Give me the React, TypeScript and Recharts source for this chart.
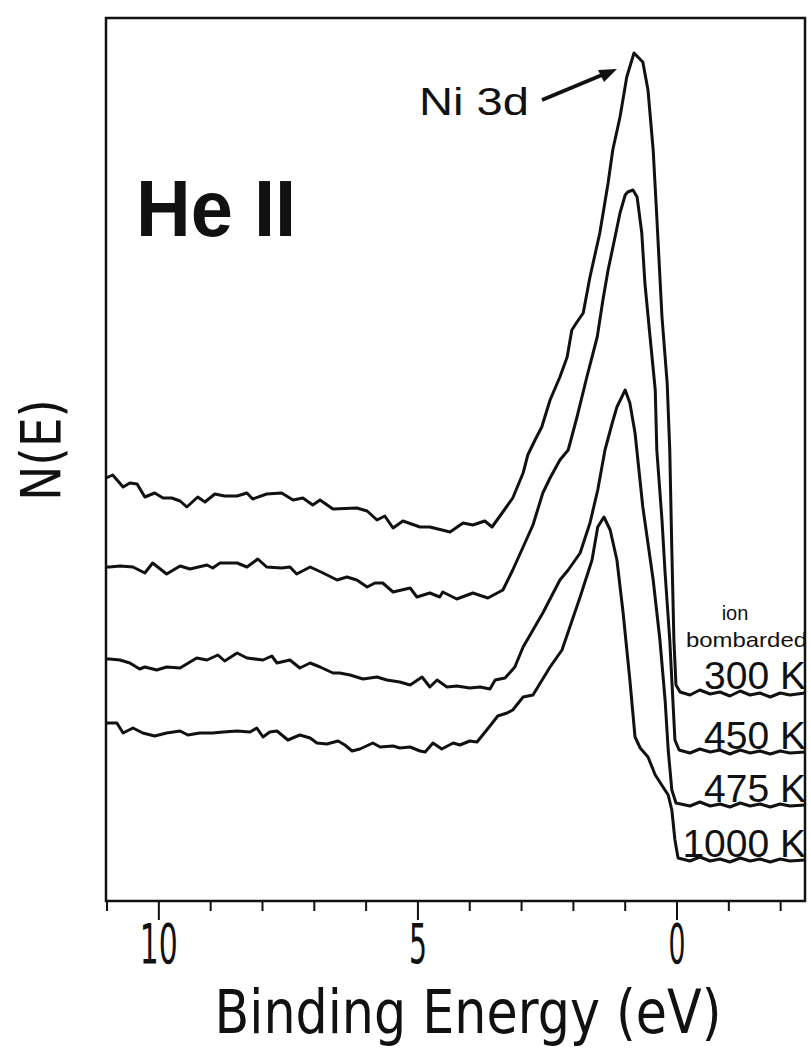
import { LineChart, Line, XAxis, YAxis, ReferenceArea } from 'recharts';

// binding energy (eV), N(E) in arbitrary units
const k300: [number, number][] = [
  [11.02, 422], [10.89, 425], [10.69, 413], [10.56, 417], [10.42, 416], [10.27, 403],
  [10.08, 407], [9.92, 402], [9.75, 402], [9.59, 399], [9.46, 393], [9.25, 403],
  [9.11, 398], [8.92, 406], [8.73, 404], [8.49, 404], [8.3, 407], [8.19, 401],
  [7.92, 406], [7.63, 407], [7.41, 400], [7.22, 402], [7.03, 395], [6.89, 400],
  [6.64, 391], [6.18, 392], [5.98, 389], [5.79, 380], [5.64, 384], [5.48, 372],
  [5.29, 379], [4.96, 373], [4.77, 373], [4.38, 368], [4.13, 377], [3.94, 375],
  [3.71, 379], [3.57, 373], [3.32, 391], [3.17, 402], [2.97, 427], [2.88, 445],
  [2.74, 460], [2.61, 473], [2.45, 500], [2.26, 523], [2.12, 543], [2.03, 570],
  [1.93, 578], [1.81, 587], [1.68, 623], [1.49, 667], [1.33, 717], [1.24, 750],
  [1.1, 783], [0.97, 823], [0.83, 847], [0.66, 838], [0.56, 810], [0.46, 750],
  [0.39, 683], [0.29, 583], [0.19, 517], [0.14, 450], [0.1, 350], [0.06, 260],
  [0.02, 215], [-0.06, 208], [-0.25, 205], [-0.44, 210], [-0.64, 206], [-0.83, 208],
  [-1.02, 204], [-1.22, 209], [-1.41, 205], [-1.6, 207], [-1.8, 203], [-1.99, 207],
  [-2.18, 205], [-2.47, 207],
];

const k450: [number, number][] = [
  [11.02, 333], [10.95, 333], [10.75, 334], [10.5, 333], [10.27, 327], [10.12, 337],
  [9.85, 326], [9.59, 334], [9.4, 331], [9.07, 335], [8.96, 332], [8.82, 337],
  [8.49, 337], [8.3, 333], [8.09, 341], [7.92, 333], [7.63, 332], [7.47, 333],
  [7.34, 326], [7.08, 333], [6.83, 327], [6.56, 320], [6.37, 323], [6.18, 320],
  [5.98, 313], [5.83, 317], [5.68, 317], [5.48, 308], [5.15, 312], [5.02, 303],
  [4.77, 307], [4.58, 303], [4.52, 308], [4.25, 301], [3.94, 307], [3.65, 302],
  [3.36, 310], [3.17, 330], [2.97, 353], [2.78, 375], [2.59, 407], [2.45, 422],
  [2.26, 440], [2.1, 450], [1.93, 483], [1.74, 523], [1.54, 563], [1.43, 600],
  [1.33, 630], [1.2, 662], [1.1, 687], [1.0, 705], [0.95, 708], [0.85, 710],
  [0.77, 703], [0.68, 667], [0.62, 617], [0.52, 563], [0.42, 510], [0.39, 450],
  [0.29, 380], [0.23, 327], [0.14, 260], [0.08, 200], [0.04, 160], [-0.04, 150],
  [-0.25, 147], [-0.44, 151], [-0.64, 148], [-0.83, 150], [-1.02, 146], [-1.22, 150],
  [-1.41, 147], [-1.6, 149], [-1.8, 146], [-1.99, 149], [-2.18, 147], [-2.47, 148],
];

const k475: [number, number][] = [
  [11.02, 241], [10.95, 241], [10.75, 240], [10.56, 237], [10.37, 231], [10.27, 233],
  [10.04, 230], [9.85, 233], [9.59, 232], [9.27, 242], [9.07, 240], [8.86, 245],
  [8.73, 239], [8.49, 247], [8.3, 242], [7.99, 240], [7.82, 244], [7.72, 237],
  [7.47, 240], [7.28, 232], [7.08, 237], [6.89, 233], [6.64, 227], [6.51, 227],
  [6.31, 225], [6.06, 221], [5.79, 223], [5.6, 220], [5.35, 218], [5.15, 215],
  [4.92, 223], [4.77, 213], [4.63, 220], [4.44, 213], [4.25, 214], [4.0, 212],
  [3.8, 213], [3.61, 211], [3.51, 220], [3.32, 222], [3.13, 233], [2.97, 253],
  [2.78, 270], [2.59, 287], [2.26, 320], [2.1, 330], [1.87, 347], [1.68, 377],
  [1.53, 410], [1.39, 450], [1.25, 477], [1.16, 493], [1.0, 510], [0.91, 497],
  [0.81, 467], [0.66, 393], [0.46, 320], [0.33, 260], [0.23, 200], [0.17, 150],
  [0.1, 110], [0.02, 97], [-0.25, 94], [-0.44, 98], [-0.64, 94], [-0.83, 96],
  [-1.02, 93], [-1.22, 97], [-1.41, 94], [-1.6, 96], [-1.8, 93], [-1.99, 96],
  [-2.18, 94], [-2.47, 95],
];

const k1000: [number, number][] = [
  [11.02, 177], [10.95, 177], [10.81, 177], [10.69, 167], [10.5, 172], [10.31, 167],
  [10.08, 164], [9.85, 167], [9.59, 169], [9.44, 165], [9.21, 167], [8.96, 167],
  [8.76, 168], [8.49, 169], [8.24, 168], [8.11, 172], [7.99, 163], [7.86, 168],
  [7.72, 169], [7.51, 160], [7.28, 165], [7.08, 162], [6.95, 157], [6.76, 156],
  [6.54, 159], [6.41, 155], [6.27, 149], [6.12, 151], [5.87, 157], [5.73, 153],
  [5.48, 154], [5.35, 152], [5.15, 153], [4.96, 149], [4.86, 148], [4.71, 157],
  [4.54, 151], [4.32, 157], [4.19, 155], [4.0, 159], [3.86, 158], [3.61, 174],
  [3.46, 184], [3.28, 187], [3.17, 190], [2.97, 203], [2.78, 205], [2.45, 233],
  [2.22, 250], [1.87, 303], [1.64, 340], [1.53, 373], [1.41, 383], [1.29, 370],
  [1.16, 340], [1.04, 287], [0.91, 220], [0.81, 163], [0.71, 152], [0.56, 143],
  [0.42, 125], [0.27, 113], [0.17, 105], [0.1, 90], [0.04, 60], [-0.02, 42],
  [-0.25, 39], [-0.44, 43], [-0.64, 39], [-0.83, 41], [-1.02, 38], [-1.22, 42],
  [-1.41, 39], [-1.6, 41], [-1.8, 38], [-1.99, 41], [-2.18, 39], [-2.47, 40],
];

const xTicks = [-2, -1, 0, 1, 2, 3, 4, 5, 6, 7, 8, 9, 10, 11];
const xLabels: Record<number, number> = { 10: 38, 5: 18, 0: 17 }; // value -> label width

const curves = [k300, k450, k475, k1000];
const tempLabels = [
  { text: '300 K', y: 689 },
  { text: '450 K', y: 749 },
  { text: '475 K', y: 802 },
  { text: '1000 K', y: 857 },
];

const toRows = (pts: [number, number][]) => pts.map(([e, n]) => ({ e, n }));

const W = 811;
const H = 1054;
const FONT = '"DejaVu Sans", sans-serif';
const SANS = '"Liberation Sans", Arial, sans-serif';

function EnergyTick(props: any) {
  const { x, y, payload } = props;
  const v = payload.value as number;
  const major = v % 5 === 0;
  return (
    <g>
      <line x1={x} y1={y} x2={x} y2={y + (major ? 19 : 10)} stroke="#111" strokeWidth={2} />
      {major && (
        <text
          x={x}
          y={y + 62}
          textAnchor="middle"
          fontFamily={FONT}
          fontSize={56}
          textLength={xLabels[v]}
          lengthAdjust="spacingAndGlyphs"
          fill="#111"
        >
          {v}
        </text>
      )}
    </g>
  );
}

export default function App() {
  return (
    <div style={{ position: 'absolute', left: 0, top: 0, width: W, height: H, background: '#fff' }}>
      <LineChart width={W} height={H} margin={{ top: 18, right: 6, bottom: 0, left: 106 }}>
        <XAxis
          dataKey="e"
          type="number"
          domain={[-2.47, 11.02]}
          reversed
          ticks={xTicks}
          interval={0}
          height={153}
          tickSize={0}
          tickMargin={0}
          axisLine={false}
          tick={<EnergyTick />}
        />
        <YAxis hide type="number" domain={[-1, 882]} />
        <ReferenceArea
          x1={11.02}
          x2={-2.47}
          y1={-1}
          y2={882}
          fill="none"
          stroke="#111"
          strokeWidth={2.5}
          ifOverflow="visible"
        />
        {curves.map((c, i) => (
          <Line
            key={i}
            data={toRows(c)}
            dataKey="n"
            type="linear"
            stroke="#111"
            strokeWidth={3}
            strokeLinejoin="round"
            dot={false}
            activeDot={false}
            isAnimationActive={false}
          />
        ))}
      </LineChart>

      <svg
        width={W}
        height={H}
        style={{ position: 'absolute', left: 0, top: 0, pointerEvents: 'none' }}
      >
        <text
          x={136}
          y={236}
          fontFamily={SANS}
          fontWeight={900}
          fontSize={79}
          textLength={160}
          lengthAdjust="spacingAndGlyphs"
          fill="#111"
        >
          He II
        </text>
        <text
          x={419}
          y={115}
          fontFamily={SANS}
          fontSize={39}
          textLength={110}
          lengthAdjust="spacingAndGlyphs"
          fill="#111"
        >
          Ni 3d
        </text>
        <line x1={542} y1={100} x2={602} y2={75} stroke="#111" strokeWidth={4} />
        <polygon points="617,69 598,70 604,82" fill="#111" />

        <text x={735} y={620} textAnchor="middle" fontFamily={SANS} fontSize={20} fill="#111">
          ion
        </text>
        <text x={686} y={647} fontFamily={SANS} fontSize={21} textLength={121} lengthAdjust="spacingAndGlyphs" fill="#111">
          bombarded
        </text>
        {tempLabels.map((t) => (
          <text
            key={t.text}
            x={806}
            y={t.y}
            textAnchor="end"
            fontFamily={SANS}
            fontSize={39}
            fill="#111"
          >
            {t.text}
          </text>
        ))}

        <text
          transform="translate(468,1033) scale(1,1.12)"
          textAnchor="middle"
          fontFamily={FONT}
          fontSize={54}
          textLength={507}
          lengthAdjust="spacingAndGlyphs"
          fill="#111"
        >
          Binding Energy (eV)
        </text>
        <text
          transform="translate(60,450) rotate(-90)"
          textAnchor="middle"
          fontFamily={FONT}
          fontSize={56}
          textLength={102}
          lengthAdjust="spacingAndGlyphs"
          fill="#111"
        >
          N(E)
        </text>
      </svg>
    </div>
  );
}
